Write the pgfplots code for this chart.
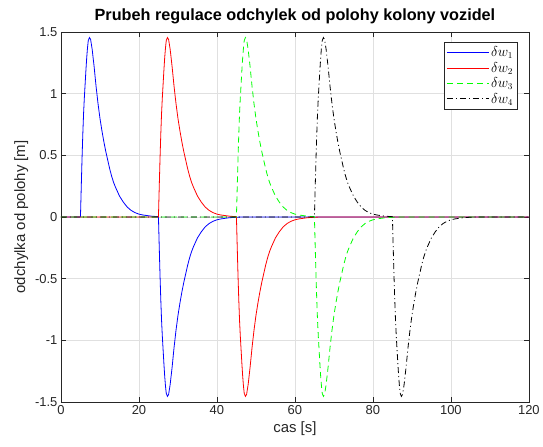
\documentclass[border=0pt]{standalone}
\usepackage{fontspec}
\setmainfont{Liberation Sans}
\usepackage{pgfplots}
\pgfplotsset{compat=1.18}
\definecolor{axgray}{RGB}{38,38,38}

\begin{document}
\begin{tikzpicture}
\begin{axis}[
    scale only axis,
    width=468bp,
    height=370bp,
    xmin=0, xmax=120,
    ymin=-1.5, ymax=1.5,
    xtick={0,20,40,60,80,100,120},
    ytick={-1.5,-1,-0.5,0,0.5,1,1.5},
    yticklabels={-1.5,-1,-0.5,0,0.5,1,1.5},
    grid=major,
    major grid style={draw=black!12, line width=0.6bp},
    axis line style={draw=axgray, line width=0.6bp},
    tick style={draw=axgray, line width=0.6bp},
    tick align=inside,
    major tick length=5bp,
    /pgf/number format/assume math mode=true,
    ticklabel style={font=\fontsize{13}{13}\selectfont, text=axgray},
    title={Prubeh regulace odchylek od polohy kolony vozidel},
    title style={font=\bfseries\fontsize{16.3}{17}\selectfont, yshift=-1bp},
    xlabel={cas [s]},
    ylabel={odchylka od polohy [m]},
    label style={font=\fontsize{15}{15}\selectfont, text=axgray},
    legend cell align=left,
    legend style={
        at={(rel axis cs:0.9765,0.973)},
        anchor=north east,
        draw=axgray,
        line width=0.6bp,
        font=\fontsize{13.5}{13.5}\selectfont,
        row sep=0bp,
        inner sep=2.5bp,
    },
    legend image code/.code={\draw[#1] (0bp,0bp) -- (42bp,0bp);},
]

\addplot[blue, line width=0.8bp] coordinates {
(0,0) (5,0) (5.2,0.24) (5.4,0.47) (5.6,0.67) (5.8,0.84) (6,0.97) (6.2,1.08) (6.4,1.19) (6.6,1.29) (6.8,1.37) (7,1.43) (7.3,1.455) (7.6,1.44) (8,1.36) (8.5,1.22) (9,1.06) (9.5,0.92) (10,0.80) (10.5,0.70) (11,0.61) (11.5,0.53) (12,0.46) (12.5,0.39) (13,0.33) (13.5,0.28) (14,0.24) (14.5,0.205) (15,0.17) (16,0.12) (17,0.08) (18,0.053) (19,0.035) (20,0.023) (21,0.016) (23,0.007)
(25,0.002) (25.2,-0.24) (25.4,-0.47) (25.6,-0.67) (25.8,-0.84) (26,-0.97) (26.2,-1.08) (26.4,-1.19) (26.6,-1.29) (26.8,-1.37) (27,-1.43) (27.3,-1.455) (27.6,-1.44) (28,-1.36) (28.5,-1.22) (29,-1.06) (29.5,-0.92) (30,-0.80) (30.5,-0.70) (31,-0.61) (31.5,-0.53) (32,-0.46) (32.5,-0.39) (33,-0.33) (33.5,-0.28) (34,-0.24) (34.5,-0.205) (35,-0.17) (36,-0.12) (37,-0.08) (38,-0.053) (39,-0.035) (40,-0.023) (41,-0.016) (43,-0.007) (45,-0.002) (47,0) (120,0)
};

\addplot[red, line width=0.8bp] coordinates {
(0,0) (25,0) (25.2,0.24) (25.4,0.47) (25.6,0.67) (25.8,0.84) (26,0.97) (26.2,1.08) (26.4,1.19) (26.6,1.29) (26.8,1.37) (27,1.43) (27.3,1.455) (27.6,1.44) (28,1.36) (28.5,1.22) (29,1.06) (29.5,0.92) (30,0.80) (30.5,0.70) (31,0.61) (31.5,0.53) (32,0.46) (32.5,0.39) (33,0.33) (33.5,0.28) (34,0.24) (34.5,0.205) (35,0.17) (36,0.12) (37,0.08) (38,0.053) (39,0.035) (40,0.023) (41,0.016) (43,0.007)
(45,0.002) (45.2,-0.24) (45.4,-0.47) (45.6,-0.67) (45.8,-0.84) (46,-0.97) (46.2,-1.08) (46.4,-1.19) (46.6,-1.29) (46.8,-1.37) (47,-1.43) (47.3,-1.455) (47.6,-1.44) (48,-1.36) (48.5,-1.22) (49,-1.06) (49.5,-0.92) (50,-0.80) (50.5,-0.70) (51,-0.61) (51.5,-0.53) (52,-0.46) (52.5,-0.39) (53,-0.33) (53.5,-0.28) (54,-0.24) (54.5,-0.205) (55,-0.17) (56,-0.12) (57,-0.08) (58,-0.053) (59,-0.035) (60,-0.023) (61,-0.016) (63,-0.007) (65,-0.002) (67,0) (120,0)
};

\addplot[green, line width=0.8bp, dash pattern=on 6bp off 4bp] coordinates {
(0,0) (45,0) (45.2,0.24) (45.4,0.47) (45.6,0.67) (45.8,0.84) (46,0.97) (46.2,1.08) (46.4,1.19) (46.6,1.29) (46.8,1.37) (47,1.43) (47.3,1.455) (47.6,1.44) (48,1.36) (48.5,1.22) (49,1.06) (49.5,0.92) (50,0.80) (50.5,0.70) (51,0.61) (51.5,0.53) (52,0.46) (52.5,0.39) (53,0.33) (53.5,0.28) (54,0.24) (54.5,0.205) (55,0.17) (56,0.12) (57,0.08) (58,0.053) (59,0.035) (60,0.023) (61,0.016) (63,0.007)
(65,0.002) (65.2,-0.24) (65.4,-0.47) (65.6,-0.67) (65.8,-0.84) (66,-0.97) (66.2,-1.08) (66.4,-1.19) (66.6,-1.29) (66.8,-1.37) (67,-1.43) (67.3,-1.455) (67.6,-1.44) (68,-1.36) (68.5,-1.22) (69,-1.06) (69.5,-0.92) (70,-0.80) (70.5,-0.70) (71,-0.61) (71.5,-0.53) (72,-0.46) (72.5,-0.39) (73,-0.33) (73.5,-0.28) (74,-0.24) (74.5,-0.205) (75,-0.17) (76,-0.12) (77,-0.08) (78,-0.053) (79,-0.035) (80,-0.023) (81,-0.016) (83,-0.007) (85,-0.002) (87,0) (120,0)
};

\addplot[black, line width=0.8bp, dash pattern=on 6bp off 3bp on 1bp off 3bp] coordinates {
(0,0) (65,0) (65.2,0.24) (65.4,0.47) (65.6,0.67) (65.8,0.84) (66,0.97) (66.2,1.08) (66.4,1.19) (66.6,1.29) (66.8,1.37) (67,1.43) (67.3,1.455) (67.6,1.44) (68,1.36) (68.5,1.22) (69,1.06) (69.5,0.92) (70,0.80) (70.5,0.70) (71,0.61) (71.5,0.53) (72,0.46) (72.5,0.39) (73,0.33) (73.5,0.28) (74,0.24) (74.5,0.205) (75,0.17) (76,0.12) (77,0.08) (78,0.053) (79,0.035) (80,0.023) (81,0.016) (83,0.007)
(85,0.002) (85.2,-0.24) (85.4,-0.47) (85.6,-0.67) (85.8,-0.84) (86,-0.97) (86.2,-1.08) (86.4,-1.19) (86.6,-1.29) (86.8,-1.37) (87,-1.43) (87.3,-1.455) (87.6,-1.44) (88,-1.36) (88.5,-1.22) (89,-1.06) (89.5,-0.92) (90,-0.80) (90.5,-0.70) (91,-0.61) (91.5,-0.53) (92,-0.46) (92.5,-0.39) (93,-0.33) (93.5,-0.28) (94,-0.24) (94.5,-0.205) (95,-0.17) (96,-0.12) (97,-0.08) (98,-0.053) (99,-0.035) (100,-0.023) (101,-0.016) (103,-0.007) (105,-0.002) (107,0) (120,0)
};

\legend{$\delta w_1$, $\delta w_2$, $\delta w_3$, $\delta w_4$}

\coordinate (bbl) at (rel axis cs:-0.1303,-0.1216);
\coordinate (btr) at (rel axis cs:1.0299,1.0865);
\end{axis}
\path[use as bounding box] (bbl) rectangle (btr);
\end{tikzpicture}
\end{document}
